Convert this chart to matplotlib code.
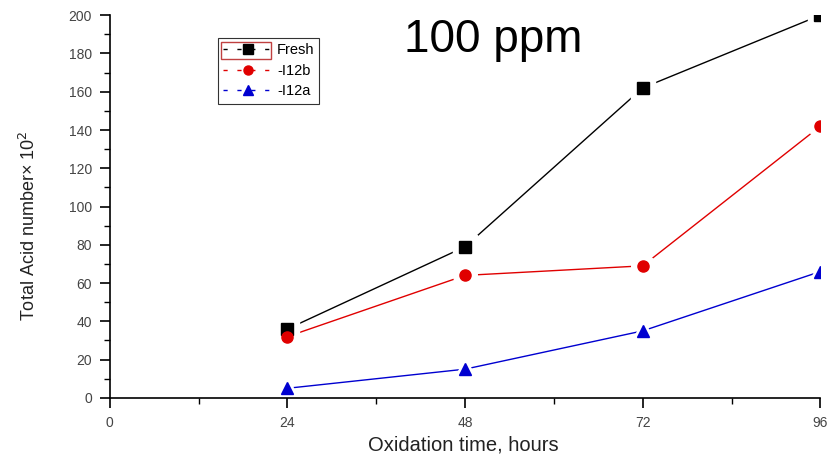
import matplotlib.pyplot as plt
from matplotlib.lines import Line2D
from matplotlib.patches import Rectangle

plt.rcParams['font.family'] = ['Liberation Sans', 'DejaVu Sans']

# Data
hours = [24, 48, 72, 96]
fresh = [36, 79, 162, 200]
i12b = [32, 64, 69, 142]
i12a = [5, 15, 35, 66]

series = [
    ('Fresh', fresh, 'black', 's'),
    ('I12b', i12b, '#e00000', 'o'),
    ('I12a', i12a, '#0000d0', '^'),
]

fig = plt.figure(figsize=(8.32, 4.61), dpi=100)
ax = fig.add_axes([0.132, 0.137, 0.854, 0.830])

handles = []
for name, vals, color, mk in series:
    ax.plot(hours, vals, color=color, lw=1.0, zorder=1)
    # white halo to leave gaps in the line around each marker
    ax.plot(hours, vals, ls='none', marker=mk, ms=17, color='white', zorder=1.5)
    ax.plot(hours, vals, ls='none', marker=mk, ms=8, color=color, zorder=4)
    handles.append(Line2D([], [], color=color, lw=1.0, ls=(0, (3, 7)),
                          marker=mk, ms=6.5, label=name if name == 'Fresh' else '-' + name))

ax.set_xlim(0, 96)
ax.set_ylim(0, 200)
ax.set_xticks([0, 24, 48, 72, 96])
ax.set_xticks([12, 36, 60, 84], minor=True)
ax.set_yticks(range(0, 201, 20))
ax.set_yticks(range(10, 200, 20), minor=True)

for side in ['top', 'right']:
    ax.spines[side].set_visible(False)
ax.spines['left'].set_linewidth(1.2)
ax.spines['bottom'].set_linewidth(1.2)
ax.tick_params(which='major', direction='out', length=7, width=1.2,
               labelsize=10, labelcolor='#444444', pad=6)
ax.tick_params(which='minor', direction='out', length=4, width=1.0)

ax.set_xlabel('Oxidation time, hours', fontsize=14.5, color='#222222')
ax.xaxis.set_label_coords(0.497, -0.098)
ax.set_ylabel('Total Acid number× 10$^2$', fontsize=13, color='#222222')
ax.yaxis.set_label_coords(-0.10, 0.45)

ax.text(0.539, 0.935, '100 ppm', transform=ax.transAxes, fontsize=33,
        ha='center', va='center')

leg = ax.legend(handles=handles, loc='upper left', bbox_to_anchor=(0.152, 0.94),
                fontsize=10.5, frameon=True, fancybox=False, edgecolor='black',
                handlelength=3.4, handletextpad=0.3, borderpad=0.35,
                labelspacing=0.45, borderaxespad=0)
leg.get_frame().set_linewidth(0.8)

fig.patches.append(Rectangle((221 / 832, 1 - 59 / 461), 50 / 832, 17 / 461,
                             transform=fig.transFigure, fill=False,
                             edgecolor='#c04040', lw=1.0))

fig.savefig('out.png', dpi=100)
